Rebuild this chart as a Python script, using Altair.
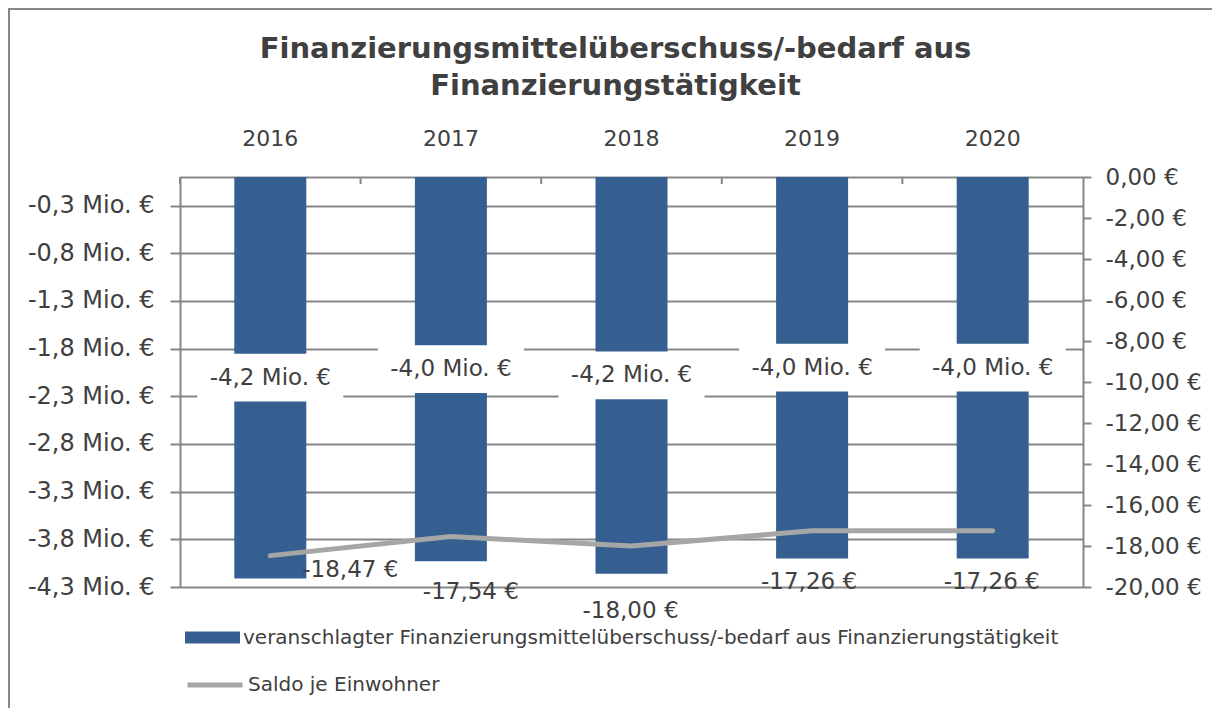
import altair as alt
import pandas as pd

years = ["2016", "2017", "2018", "2019", "2020"]
mio_values = [-4.21, -4.03, -4.16, -4.00, -4.00]
per_capita = [-18.47, -17.54, -18.00, -17.26, -17.26]
left_ticks = [-0.3, -0.8, -1.3, -1.8, -2.3, -2.8, -3.3, -3.8, -4.3]
right_ticks = [0, -2, -4, -6, -8, -10, -12, -14, -16, -18, -20]
bar_name = "veranschlagter Finanzierungsmittelüberschuss/-bedarf aus Finanzierungstätigkeit"
line_name = "Saldo je Einwohner"
title_lines = ["Finanzierungsmittelüberschuss/-bedarf aus", "Finanzierungstätigkeit"]

df = pd.DataFrame({"year": years, "mio": mio_values, "pc": per_capita})
df["mio_label"] = [f"{v:.1f}".replace(".", ",") + " Mio. €" for v in mio_values]
df["pc_label"] = [f"{v:.2f}".replace(".", ",") + " €" for v in per_capita]
df["series_bar"] = bar_name
df["series_line"] = line_name

FONT = "DejaVu Sans"
TXT = "#404040"
GRID = "#878787"
BLUE = "#355f91"
GREY = "#a6a6a6"

W, H = 903, 410

xscale = alt.Scale(domain=years, paddingInner=0, paddingOuter=0)
top_axis = alt.Axis(orient="top", title=None, labelAngle=0, ticks=False,
                    domainColor=GRID, domainWidth=2, labelFontSize=22,
                    labelColor=TXT, labelFont=FONT, labelPadding=27, grid=False)
X = alt.X("year:N", scale=xscale, axis=top_axis, title=None)

left_scale = alt.Scale(domain=[-4.3, 0], nice=False, zero=False)
left_axis = alt.Axis(orient="left", values=left_ticks, title=None,
                     labelExpr="replace(replace(format(datum.value, '.1f'), '.', ','), '\u2212', '-') + ' Mio. €'",
                     grid=True, gridColor=GRID, gridWidth=2,
                     tickColor=GRID, tickWidth=2, tickSize=10,
                     domainColor=GRID, domainWidth=2,
                     labelFontSize=24, labelColor=TXT, labelFont=FONT, labelPadding=16)

right_scale = alt.Scale(domain=[-20, 0], nice=False, zero=False)
right_axis = alt.Axis(orient="right", values=right_ticks, title=None,
                      labelExpr="replace(replace(format(datum.value, '.2f'), '.', ','), '\u2212', '-') + ' €'",
                      grid=False, tickColor=GRID, tickWidth=2, tickSize=8,
                      domainColor=GRID, domainWidth=2,
                      labelFontSize=23, labelColor=TXT, labelFont=FONT, labelPadding=14)

base = alt.Chart(df)

bars = base.mark_bar(width=72).encode(
    x=X,
    y=alt.Y("mio:Q", scale=left_scale, axis=left_axis),
    y2=alt.datum(0),
    fill=alt.Fill("series_bar:N", scale=alt.Scale(domain=[bar_name], range=[BLUE]),
                  legend=alt.Legend(title=None, orient="none", legendX=5, legendY=433,
                                    symbolType="M-1,-0.22H1V0.22H-1Z", symbolSize=3025,
                                    symbolStrokeWidth=0, labelFontSize=20, labelFont=FONT,
                                    labelColor=TXT, labelOffset=3, padding=0, labelLimit=2000)),
)

boxes = base.mark_bar(width=146, color="white").transform_calculate(
    box_top="datum.mio / 2 + 0.25", box_bot="datum.mio / 2 - 0.25"
).encode(
    x=X,
    y=alt.Y("box_top:Q", scale=left_scale, axis=left_axis),
    y2="box_bot:Q",
)

bar_labels = base.mark_text(fontSize=23, font=FONT, color=TXT).transform_calculate(
    mid="datum.mio / 2"
).encode(
    x=X,
    y=alt.Y("mid:Q", scale=left_scale, axis=left_axis),
    text="mio_label:N",
)

top_ticks = base.mark_rule(color=GRID, strokeWidth=2).encode(
    x=alt.X("year:N", scale=xscale, axis=top_axis, title=None, bandPosition=0),
    y=alt.value(0), y2=alt.value(7),
)

left_layer = alt.layer(bars, boxes, bar_labels, top_ticks)

line = base.mark_line(strokeWidth=5, strokeCap="round", strokeJoin="round").encode(
    x=X,
    y=alt.Y("pc:Q", scale=right_scale, axis=right_axis),
    stroke=alt.Stroke("series_line:N", scale=alt.Scale(domain=[line_name], range=[GREY]),
                      legend=alt.Legend(title=None, orient="none", legendX=5, legendY=478,
                                        symbolType="stroke", symbolSize=3025,
                                        symbolStrokeWidth=5, labelFontSize=20, labelFont=FONT,
                                        labelColor=TXT, labelOffset=3, padding=0, labelLimit=2000)),
)

offsets = {"2016": (80, 14), "2017": (20, 55), "2018": (-1, 65), "2019": (-3, 51), "2020": (-1, 51)}
line_labels = []
for yr in years:
    dx, dy = offsets[yr]
    line_labels.append(
        base.transform_filter(alt.datum.year == yr).mark_text(
            fontSize=23, font=FONT, color=TXT, dx=dx, dy=dy
        ).encode(
            x=X,
            y=alt.Y("pc:Q", scale=right_scale, axis=right_axis),
            text="pc_label:N",
        )
    )

right_layer = alt.layer(line, *line_labels)

frame_df = pd.DataFrame({"k": [0]})
frame_v = alt.Chart(frame_df).mark_rule(color=GRID, strokeWidth=2).encode(
    x=alt.value(-171), y=alt.value(-168), y2=alt.value(531))
frame_h = alt.Chart(frame_df).mark_rule(color=GRID, strokeWidth=2).encode(
    x=alt.value(-172), x2=alt.value(1032), y=alt.value(-168))

chart = alt.layer(frame_v, frame_h, left_layer, right_layer).resolve_scale(
    y="independent", fill="independent", stroke="independent"
).properties(
    width=W, height=H,
    title=alt.Title(title_lines, fontSize=29, font=FONT, fontWeight="bold", color=TXT,
                    anchor="middle", dx=-16, offset=-93, lineHeight=37),
    autosize=alt.AutoSizeParams(type="none"),
    padding={"left": 172, "top": 169, "right": 129, "bottom": 121},
).configure_view(stroke=None).configure(background="white")

chart.save("out.html", embed_options={"renderer": "svg", "actions": False})
